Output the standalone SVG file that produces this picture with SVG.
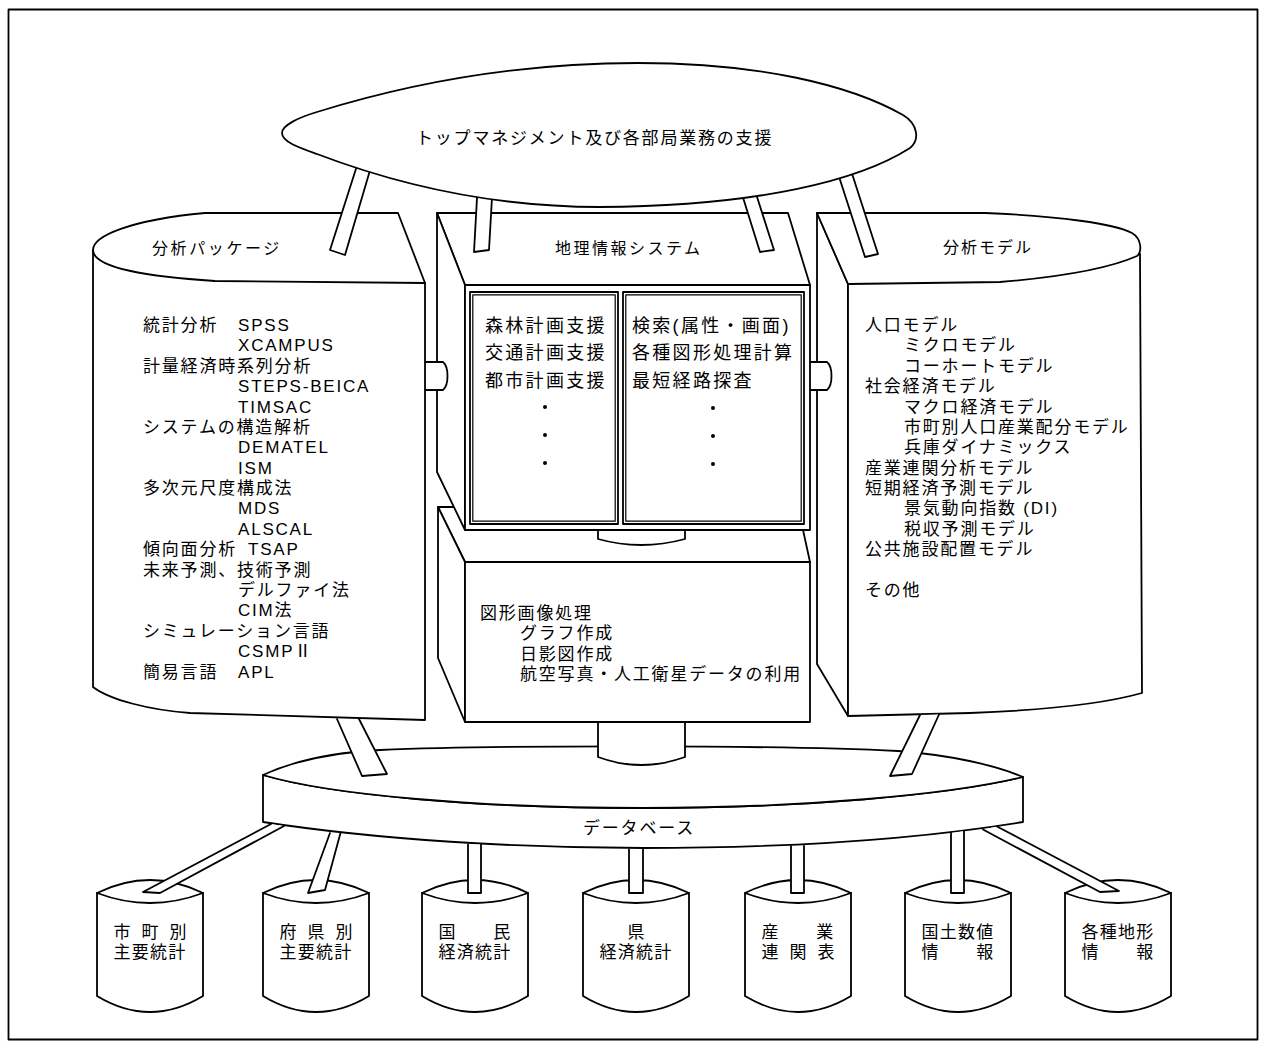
<svg xmlns="http://www.w3.org/2000/svg" xmlns:xlink="http://www.w3.org/1999/xlink" width="1268" height="1059" viewBox="0 0 1268 1059">
<style>
.s{fill:#fff;stroke:#000;stroke-width:1.8;stroke-linejoin:round;stroke-linecap:round}
.n{fill:none;stroke:#000;stroke-width:1.8;stroke-linejoin:round;stroke-linecap:round}
text{font-family:"Liberation Sans","Noto Sans CJK JP",sans-serif;fill:#000}
.t{font-size:17px;letter-spacing:1.8px}
.p{font-size:18px;letter-spacing:2.3px}
.h{font-size:16px;letter-spacing:2.5px}
.c{font-size:17px;letter-spacing:1.25px}
.w{font-size:17px;letter-spacing:11px}
</style>
<defs>
<g id="cyl">
<path class="s" d="M-53,893 Q0,867 53,893 L53,996 Q0,1028 -53,996 Z"/>
<path class="n" d="M-53,893 Q0,913 53,893"/>
</g>
</defs>
<rect x="0" y="0" width="1268" height="1059" fill="#fff"/>
<rect class="n" x="8.5" y="9.5" width="1249" height="1030"/>

<g id="db-1"><use xlink:href="#cyl" x="150"/><text class="w" x="113.5" y="938">市町別</text><text class="c" x="113.5" y="958">主要統計</text></g>
<g id="db-2"><use xlink:href="#cyl" x="316"/><text class="w" x="279.5" y="938">府県別</text><text class="c" x="279.5" y="958">主要統計</text></g>
<g id="db-3"><use xlink:href="#cyl" x="475"/><text class="c" x="438.5" y="938">国　　民</text><text class="c" x="438.5" y="958">経済統計</text></g>
<g id="db-4"><use xlink:href="#cyl" x="636"/><text class="c" x="627.5" y="938">県</text><text class="c" x="599.5" y="958">経済統計</text></g>
<g id="db-5"><use xlink:href="#cyl" x="798"/><text class="c" x="761.5" y="938">産　　業</text><text class="w" x="761.5" y="958">連関表</text></g>
<g id="db-6"><use xlink:href="#cyl" x="958"/><text class="c" x="921.5" y="938">国土数値</text><text class="c" x="921.5" y="958">情　　報</text></g>
<g id="db-7"><use xlink:href="#cyl" x="1118"/><text class="c" x="1081.5" y="938">各種地形</text><text class="c" x="1081.5" y="958">情　　報</text></g>

<g id="database">
<path class="s" d="M263,775 L263,822 C380,840 520,848 643,848 C770,848 900,842 1023,822 L1023,777 C950,795 800,808 643,808 C480,808 330,795 263,775 Z"/>
<path class="s" d="M263,775 C300,758 340,752 380,750 C500,745 780,745 898,751 C950,755 995,765 1023,777 C950,795 800,808 643,808 C480,808 330,795 263,775 Z"/>
<text class="t" x="583" y="834">データベース</text>
</g>

<g id="analysis-package">
<path class="s" d="M93,250 L93,687 C110,700 150,710 190,713 L425,720 L425,283 Z"/>
<path class="s" d="M93,250 C93,236 130,220 205,213 L398,213 L425,283 L215,281 C150,277 93,268 93,250 Z"/>
<text class="h" x="152" y="254" style="letter-spacing:2.6px">分析パッケージ</text>
<g class="t">
<text class="t" x="143" y="331">統計分析</text><text class="t" x="238" y="331">SPSS</text>
<text class="t" x="238" y="351.4">XCAMPUS</text>
<text class="t" x="143" y="371.8">計量経済時系列分析</text>
<text class="t" x="238" y="392.1">STEPS-BEICA</text>
<text class="t" x="238" y="412.5">TIMSAC</text>
<text class="t" x="143" y="432.9">システムの構造解析</text>
<text class="t" x="238" y="453.3">DEMATEL</text>
<text class="t" x="238" y="473.7">ISM</text>
<text class="t" x="143" y="494">多次元尺度構成法</text>
<text class="t" x="238" y="514.4">MDS</text>
<text class="t" x="238" y="534.8">ALSCAL</text>
<text class="t" x="143" y="555.2">傾向面分析</text><text class="t" x="248" y="555.2">TSAP</text>
<text class="t" x="143" y="575.6">未来予測、技術予測</text>
<text class="t" x="238" y="595.9">デルファイ法</text>
<text class="t" x="238" y="616.3">CIM法</text>
<text class="t" x="143" y="636.7">シミュレーション言語</text>
<text class="t" x="238" y="657.1">CSMPⅡ</text>
<text class="t" x="143" y="677.5">簡易言語</text><text class="t" x="238" y="677.5">APL</text>
</g>
</g>

<g id="gis">
<path class="s" d="M438,507 L798,507 L810,562 L465,562 Z"/>
<path class="s" d="M438,507 L465,562 L465,722 L438,658 Z"/>
<rect class="s" x="465" y="562" width="345" height="160"/>
<text class="t" x="480" y="619">図形画像処理</text>
<text class="t" x="520" y="639">グラフ作成</text>
<text class="t" x="520" y="660">日影図作成</text>
<text class="t" x="520" y="680">航空写真・人工衛星データの利用</text>
<path class="s" d="M437,213 L788,213 L810,285 L465,285 Z"/>
<path class="s" d="M437,213 L465,285 L465,530 L437,472 Z"/>
<rect class="s" x="465" y="285" width="345" height="245"/>
<rect class="s" x="470" y="292" width="148" height="232"/>
<rect class="n" x="472.8" y="294.8" width="142.4" height="226.4" style="stroke-width:1.2"/>
<rect class="s" x="623" y="292" width="181" height="232"/>
<rect class="n" x="625.8" y="294.8" width="175.4" height="226.4" style="stroke-width:1.2"/>
<text class="h" x="555" y="254">地理情報システム</text>
<text class="p" x="485" y="331.5">森林計画支援</text>
<text class="p" x="485" y="359">交通計画支援</text>
<text class="p" x="485" y="386.5">都市計画支援</text>
<text class="p" x="632" y="331.5">検索(属性・画面)</text>
<text class="p" x="632" y="359">各種図形処理計算</text>
<text class="p" x="632" y="386.5">最短経路探査</text>
<circle cx="545" cy="407" r="2"/><circle cx="545" cy="435" r="2"/><circle cx="545" cy="463" r="2"/>
<circle cx="713" cy="408" r="2"/><circle cx="713" cy="436" r="2"/><circle cx="713" cy="464" r="2"/>
</g>

<g id="analysis-model">
<path class="s" d="M817,213 L848,284 L848,716 L817,664 Z"/>
<path class="s" d="M848,284 L1140,254 L1142,693 C1110,702 1050,710 970,713 L848,716 Z"/>
<path class="s" d="M817,213 L985,213 C1060,216 1115,224 1132,233 C1142,239 1142,252 1137,256 C1110,268 1060,277 1000,282 L848,284 Z"/>
<text class="h" x="943" y="253" style="letter-spacing:2px">分析モデル</text>
<text class="t" x="865" y="331">人口モデル</text>
<text class="t" x="904" y="351.4">ミクロモデル</text>
<text class="t" x="904" y="371.8">コーホートモデル</text>
<text class="t" x="865" y="392.1">社会経済モデル</text>
<text class="t" x="904" y="412.5">マクロ経済モデル</text>
<text class="t" x="904" y="432.9">市町別人口産業配分モデル</text>
<text class="t" x="904" y="453.3">兵庫ダイナミックス</text>
<text class="t" x="865" y="473.7">産業連関分析モデル</text>
<text class="t" x="865" y="494">短期経済予測モデル</text>
<text class="t" x="904" y="514.4">景気動向指数 (DI)</text>
<text class="t" x="904" y="534.8">税収予測モデル</text>
<text class="t" x="865" y="555.2">公共施設配置モデル</text>
<text class="t" x="865" y="596">その他</text>
</g>

<g id="connectors">
<path class="s" d="M271,824 L143,892 L160,893 L284,826"/>
<path class="s" d="M330,833 L308,893 L325,890 L340.5,833"/>
<path class="s" d="M468,844.5 L468,893 L481,893 L481,844.5"/>
<path class="s" d="M629,849.5 L629,893 L643,893 L643,849.5"/>
<path class="s" d="M791,846 L791,893 L804,893 L804,846"/>
<path class="s" d="M951,833 L951,893 L964,893 L964,831"/>
<path class="s" d="M983,829.5 L1100,892 L1119,891 L997,826.5"/>
<path class="s" d="M337,719 L362,776 L387,774 L359,719"/>
<path class="s" d="M920,715 L890,776 L912,774 L939,714.5"/>
<path class="s" d="M598,723 L598,757 Q641,773 685,757 L685,723"/>
<path class="s" d="M598,531.5 L598,539 Q641,551 685,539 L685,531.5"/>
<path class="s" d="M426,362 L443,362 C449,367 449,385 443,390 L426,390"/>
<path class="s" d="M811,362 L827,362 C833,367 833,385 827,390 L811,390"/>
<path class="s" d="M362,150 L330,250 L345,255 L376,150"/>
<path class="s" d="M478,180 L474,252 L489,250 L493,180"/>
<path class="s" d="M736,175 L760,252 L774,250 L750,175"/>
<path class="s" d="M832,155 L865,257 L878,254 L846,155"/>
</g>

<g id="top-management">
<path class="s" d="M282,133 C282,125 300,117 317,112 C420,80 530,63 638,63 C760,63 850,85 903,115 C918,124 920,140 910,148 C860,180 760,206 600,207 C480,207 380,178 317,154 C300,148 282,142 282,133 Z"/>
<text class="t" x="416" y="144">トップマネジメント及び各部局業務の支援</text>
</g>
</svg>
